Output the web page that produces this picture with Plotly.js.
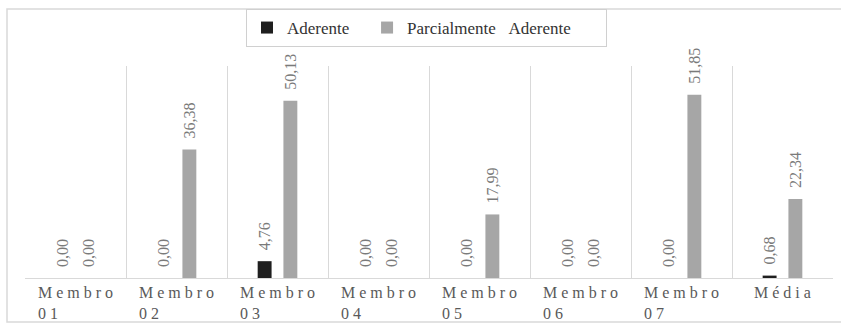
<!DOCTYPE html>
<html>
<head>
<meta charset="utf-8">
<script src="https://cdn.plot.ly/plotly-3.0.1.min.js"></script>
<style>html,body{margin:0;padding:0;background:#fff;}#chart{width:841px;height:325px;}</style>
</head>
<body>
<div id="chart"></div>
<script>
const categories = ["Membro 01","Membro 02","Membro 03","Membro 04","Membro 05","Membro 06","Membro 07","Média"];
const tickLabels = ["M e m b r o<br>0 1","M e m b r o<br>0 2","M e m b r o<br>0 3","M e m b r o<br>0 4","M e m b r o<br>0 5","M e m b r o<br>0 6","M e m b r o<br>0 7","M é d i a"];
const aderente = [0.00, 0.00, 4.76, 0.00, 0.00, 0.00, 0.00, 0.68];
const parcialmente = [0.00, 36.38, 50.13, 0.00, 17.99, 0.00, 51.85, 22.34];
const seriesNames = ["Aderente", "Parcialmente Aderente"];

const NB = "\u00A0";
const fmt = v => NB + NB + v.toFixed(2).replace('.', ',');
const serif = "Liberation Serif";
const labelFont = {family: serif, size: 16, color: "#7a7a7a"};

const traces = [
  {type: "bar", name: seriesNames[0] + NB.repeat(3), x: categories, y: aderente, marker: {color: "#1f1f1f"},
   text: aderente.map(fmt), textposition: "outside", textangle: -90, constraintext: "none", textfont: labelFont, cliponaxis: false, hoverinfo: "none"},
  {type: "bar", name: seriesNames[1].replace(" ", NB.repeat(3)) + NB.repeat(7), x: categories, y: parcialmente, marker: {color: "#a6a6a6"},
   text: parcialmente.map(fmt), textposition: "outside", textangle: -90, constraintext: "none", textfont: labelFont, cliponaxis: false, hoverinfo: "none"}
];

const W = 841, H = 325, L = 25, R = 833, T = 66, B = 278;
const pw = R - L, ph = B - T;
const px = x => (x - L) / pw;
const py = y => (B - y) / ph;

const annotations = categories.map((c, i) => ({
  x: c, xref: "x", y: py(282), yref: "paper", yanchor: "top", xanchor: "center",
  text: tickLabels[i], align: "left", showarrow: false,
  font: {family: serif, size: 16, color: "#595959"}
}));

const layout = {
  width: W, height: H,
  margin: {l: L, r: W - R, t: T, b: H - B, pad: 0},
  paper_bgcolor: "#ffffff", plot_bgcolor: "#ffffff",
  barmode: "group", bargap: 0.49, bargroupgap: 0.46,
  showlegend: true,
  legend: {orientation: "h", x: px(246), xanchor: "left", y: py(9), yanchor: "top",
    bordercolor: "#d0d0d0", borderwidth: 1, bgcolor: "#ffffff",
    font: {family: serif, size: 17, color: "#333333"}, itemwidth: 30, tracegroupgap: 0},
  xaxis: {type: "category", tickson: "boundaries", showgrid: true, gridcolor: "#d9d9d9", gridwidth: 1,
    showline: true, linecolor: "#d9d9d9", linewidth: 1, ticks: "", showticklabels: false, zeroline: false, fixedrange: true},
  yaxis: {range: [0, 60], showgrid: false, zeroline: false, showticklabels: false, showline: false, ticks: "", fixedrange: true},
  shapes: [
    {type: "rect", xref: "paper", yref: "paper", x0: px(7), x1: px(845), y0: py(322), y1: py(9),
     line: {color: "#d9d9d9", width: 1.5}, fillcolor: "rgba(0,0,0,0)", layer: "below"}
  ],
  annotations: annotations
};

Plotly.newPlot("chart", traces, layout, {displayModeBar: false, staticPlot: true});
</script>
</body>
</html>
